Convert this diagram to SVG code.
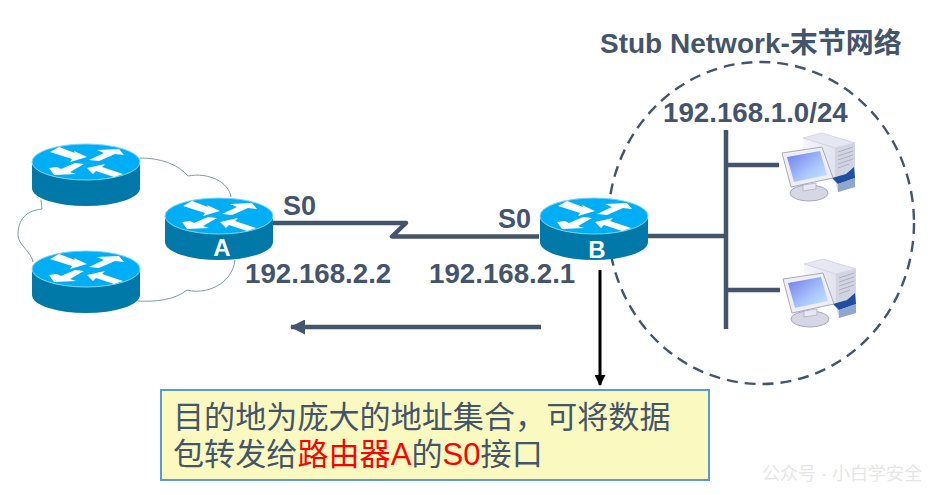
<svg xmlns="http://www.w3.org/2000/svg" width="934" height="495" viewBox="0 0 934 495">
<style>
text{font-family:"Liberation Sans","Noto Sans CJK SC",sans-serif;fill:#44546a}
.b{font-weight:700;font-size:27.7px}
.s{font-weight:700;font-size:27px}
.r{font-weight:700;font-size:24px;fill:#fff;text-anchor:middle}
.c{font-size:31.1px}
.red{fill:#f00}
.l{fill:none;stroke:#44546a;stroke-width:4.5;stroke-linejoin:round}
.cloud{fill:none;stroke:#7f9ba3;stroke-width:1}
</style>
<defs>
<linearGradient id="scr" x1="0" y1="0" x2="1" y2="1"><stop offset="0" stop-color="#6f78e8"/><stop offset=".6" stop-color="#a9c6fb"/><stop offset="1" stop-color="#c9e6ff"/></linearGradient>
<linearGradient id="tw" x1="0" y1="0" x2="1" y2="0"><stop offset="0" stop-color="#f6f6fb"/><stop offset="1" stop-color="#d5d6e4"/></linearGradient>
<marker id="ah" viewBox="0 0 15 15" refX="14" refY="7.5" markerWidth="15" markerHeight="15" markerUnits="userSpaceOnUse" orient="auto"><path d="M0 0L15 7.5L0 15Z" fill="#44546a"/></marker>
<marker id="bh" viewBox="0 0 11 11" refX="10" refY="5.5" markerWidth="11" markerHeight="11" markerUnits="userSpaceOnUse" orient="auto"><path d="M0 0L11 5.5L0 11Z" fill="#000"/></marker>
<g id="router">
<path d="M-54 0V26A54 18 0 0 0 54 26V0Z" fill="#0078a8"/>
<ellipse cx="0" cy="0" rx="54" ry="18" fill="#00aef5" stroke="#7fd6f5" stroke-width="1"/>
<g fill="#fff">
<polygon points="-36,-10 -27,-15 -11,-9 -12,-11 1,-5 -16,0 -14,-3"/>
<polygon points="3,-2 18,-9 11,-12 33,-13 38,-7 29,-8 13,-1"/>
<polygon points="-2,2 -11,1 -25,7 -29,5 -37,6 -32,13 -10,12 -16,10"/>
<polygon points="1,6 19,2 16,5 37,12 28,15 10,9 7,12"/>
</g>
</g>
<g id="pc">
<polygon points="33,8 52,3 85,13 65,18 65,50 33,40" fill="url(#tw)"/>
<polygon points="33,8 52,3 85,13 65,18" fill="#e6e7f2" stroke="#c6c7d8" stroke-width=".6"/>
<polygon points="65,18 85,13 85,57 68,62 65,50" fill="#d3d4e2"/>
<g stroke="#aeb1c4" stroke-width="1" fill="none"><path d="M68,22L83,17M68,26L83,21M68,30L83,25M68,34L83,29M68,38L79,34"/></g>
<polygon points="62,48 76,44 84,37 85,48 68,54" fill="#1f4ea3"/>
<polygon points="68,54 85,48 85,57 68,62" fill="#8fa6cf"/>
<ellipse cx="39" cy="63" rx="19" ry="8" fill="#d6d6e4" stroke="#a7a8bc"/>
<polygon points="33,55 46,53 46,59 33,61" fill="#e8e8f2" stroke="#a7a8bc" stroke-width=".7"/>
<polygon points="12,23 52,17 63,48 21,57" fill="#eeeef6" stroke="#a8a9bd"/>
<polygon points="17,27 50,21 57,45 24,52" fill="url(#scr)"/>
</g>
</defs>

<g id="connectors">
<path class="cloud" d="M140 158C160 158 178 164 188 176C208 172 229 182 231 197"/>
<path class="cloud" d="M41 200L42 209C22 211 18 224 18 235C18 245 31 251 33 262"/>
<path class="cloud" d="M235 260C232 285 205 295 187 290C175 300 155 302 138 301"/>
<ellipse cx="761" cy="223" rx="153" ry="161" fill="none" stroke="#44546a" stroke-width="2.4" stroke-dasharray="11 7"/>
<path class="l" d="M273 223H406L392 236.500H539"/>
<path class="l" d="M648 236H726M726 130V329M726 165H779M726 290H780"/>
<line x1="541" y1="327" x2="291" y2="327" stroke="#44546a" stroke-width="4.500" marker-end="url(#ah)"/>
<line x1="600" y1="270" x2="600" y2="385" stroke="#000" stroke-width="3" marker-end="url(#bh)"/>
</g>

<g id="router-1"><use href="#router" x="86" y="162"/></g>
<g id="router-2"><use href="#router" x="86" y="269"/></g>
<g id="router-a"><use href="#router" x="219" y="216"/><text class="r" x="222" y="256">A</text></g>
<g id="router-b"><use href="#router" x="594" y="216"/><text class="r" x="597" y="258">B</text></g>
<g id="pc-1"><use href="#pc" x="770" y="130"/></g>
<g id="pc-2"><use href="#pc" x="771" y="256"/></g>

<g id="labels">
<text class="b" x="600" y="53" style="font-size:28px">Stub Network-末节网络</text>
<text class="b" x="663" y="121.500">192.168.1.0/24</text>
<text class="s" x="283" y="215">S0</text>
<text class="s" x="498" y="228">S0</text>
<text class="b" x="245" y="283">192.168.2.2</text>
<text class="b" x="429" y="283">192.168.2.1</text>
</g>

<g id="note">
<rect x="161" y="390" width="548" height="90" fill="#fafac0" stroke="#5b9bd5" stroke-width="2"/>
<text class="c" x="173" y="428">目的地为庞大的地址集合，可将数据</text>
<text class="c" x="173" y="465">包转发给<tspan class="red">路由器A</tspan>的<tspan class="red">S0</tspan>接口</text>
</g>
<text x="762" y="480" font-size="18" style="fill:#e6e6e6">公众号 · 小白学安全</text>
</svg>
